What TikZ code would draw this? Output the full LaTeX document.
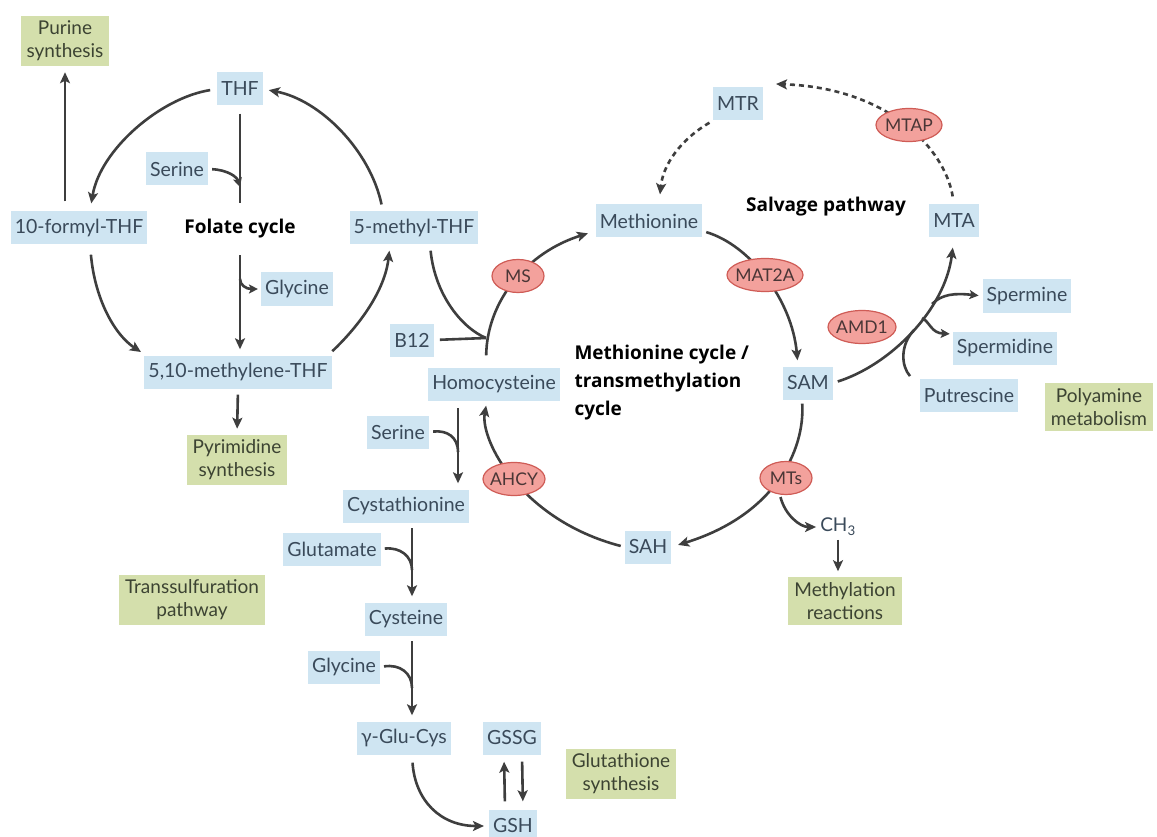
\documentclass[tikz,border=0pt]{standalone}
\usepackage{fontspec}
\setmainfont{Lato}
\newfontfamily\titlefont{Open Sans}
\usetikzlibrary{shapes.geometric,arrows.meta}
\pgfdeclarelayer{bg}
\pgfsetlayers{bg,main}
\definecolor{metfill}{HTML}{CFE5F2}
\definecolor{mettext}{HTML}{3A4A5A}
\definecolor{grnfill}{HTML}{D4DFAC}
\definecolor{grntext}{HTML}{3C4332}
\definecolor{enzfill}{HTML}{F3A19C}
\definecolor{enzdraw}{HTML}{CF5C56}
\definecolor{enztext}{HTML}{4A3636}
\definecolor{linecol}{HTML}{3E3E3E}
\tikzset{
  met/.style={fill=metfill,text=mettext,font=\fontsize{19.5}{22}\selectfont,inner xsep=4pt,inner ysep=0pt,minimum height=33pt},
  grn/.style={fill=grnfill,text=grntext,font=\fontsize{19}{23}\selectfont,align=center,inner xsep=6pt,inner ysep=5pt},
  enz/.style={ellipse,fill=enzfill,draw=enzdraw,line width=1.2pt,text=enztext,font=\fontsize{17.5}{20}\selectfont,inner xsep=-3pt,inner ysep=0pt,minimum height=33pt},
  ttl/.style={font=\titlefont\bfseries\fontsize{19}{28}\selectfont,text=black},
  arrowline/.style={draw=linecol,line width=2.6pt,-{Stealth[length=11pt,width=10pt,inset=2.5pt]}},
  smallarrow/.style={draw=linecol,line width=2.6pt,-{Stealth[length=9pt,width=9pt,inset=2pt]}},
  mergeline/.style={draw=linecol,line width=2.6pt},
  salv/.style={arrowline,dash pattern=on 5pt off 4pt},
}
\begin{document}
\begin{tikzpicture}[x=1pt,y=-1pt]
\useasboundingbox (0,0) rectangle (1157,837);
% ---------- folate cycle ----------
\node[met] (thf) at (240,89) {THF};
\node[met] (serA) at (177,169) {Serine};
\node[met] (form) at (79,228) {10-formyl-THF};
\node[met] (m5) at (414,228) {5-methyl-THF};
\node[met] (glyA) at (297,289) {Glycine};
\node[met] (mlene) at (238,372) {5,10-methylene-THF};
\node[grn] (purine) at (65,41) {Purine\\synthesis};
\node[grn] (pyrim) at (237,460) {Pyrimidine\\synthesis};
\node[ttl,minimum height=52pt] (folate) at (240,229) {Folate cycle};
% ---------- methionine cycle ----------
\node[met] (b12) at (412,340) {B12};
\node[met] (hcy) at (494,384) {Homocysteine};
\node[met] (met) at (649,221) {Methionine};
\node[met] (sam) at (808,383) {SAM};
\node[met] (sah) at (648,547) {SAH};
\node[enz,minimum width=52pt] (ms) at (518,276) {MS};
\node[enz,minimum width=76pt] (mat) at (765,275) {MAT2A};
\node[enz,minimum width=62pt] (ahcy) at (514,479) {AHCY};
\node[enz,minimum width=52pt] (mts) at (786,478) {MTs};
\node[text=mettext,font=\fontsize{19}{22}\selectfont,inner sep=1pt] (ch3) at (838,527) {CH\textsubscript{3}};
\node[grn] (methyl) at (845,601) {Methylation\\reactions};
\node[ttl,align=left,anchor=west] (mcyc) at (571,383) {Methionine cycle /\\transmethylation\\cycle};
% ---------- salvage / polyamine ----------
\node[met] (mtr) at (738,104) {MTR};
\node[met] (mta) at (954,221) {MTA};
\node[enz,minimum width=66pt] (mtap) at (909,125) {MTAP};
\node[ttl] (salvage) at (826,207) {Salvage pathway};
\node[met] (spermine) at (1027,296) {Spermine};
\node[met] (spermidine) at (1005,348) {Spermidine};
\node[met] (putres) at (969,395) {Putrescine};
\node[enz,minimum width=68pt] (amd) at (862,327) {AMD1};
\node[grn] (polyam) at (1099,407) {Polyamine\\metabolism};
% ---------- transsulfuration ----------
\node[met] (serB) at (398,432) {Serine};
\node[met] (cysta) at (406,506) {Cystathionine};
\node[met] (glu) at (332,549) {Glutamate};
\node[grn] (transs) at (192,600) {Transsulfuration\\pathway};
\node[met] (cyst) at (406,619) {Cysteine};
\node[met] (glyB) at (344,667) {Glycine};
\node[met] (ggc) at (404,738) {γ-Glu-Cys};
\node[met] (gssg) at (512,738) {GSSG};
\node[grn] (gsyn) at (621,774) {Glutathione\\synthesis};
\node[met] (gsh) at (513,826) {GSH};
% ---------- junction coordinates ----------
\coordinate (jSerA) at (240,187);
\coordinate (jGlyA) at (240,279);
\coordinate (jMS) at (486,338);
\coordinate (h1) at (458,400);
\coordinate (jSerB) at (458,452);
\coordinate (c1) at (412,522);
\coordinate (jGlu) at (412,570);
\coordinate (c2) at (412,635);
\coordinate (jGlyB) at (412,688);
\coordinate (salvtip) at (776,84);
\coordinate (jSpm) at (932,304);
\coordinate (jSpd) at (922,318);
\coordinate (jPut) at (914,330);
\begin{pgfonlayer}{bg}
\fill[white] (0,0) rectangle (1157,837);
% folate cycle
\draw[arrowline,shorten <=7pt,shorten >=8pt] (thf.west) .. controls (160,98) and (100,150) .. ([xshift=11pt]form.north);
\draw[arrowline,shorten <=10pt,shorten >=6pt] (purine.south |- form.north) -- (purine.south);
\draw[arrowline,shorten <=10pt,shorten >=6pt] ([xshift=11pt]form.south) .. controls (95,300) and (115,335) .. ([xshift=-92pt]mlene.north);
\draw[arrowline,shorten <=6pt,shorten >=6pt] ([xshift=90pt]mlene.north) .. controls (360,325) and (385,290) .. ([xshift=-24pt]m5.south);
\draw[arrowline,shorten <=7pt,shorten >=6pt] ([xshift=-31pt]m5.north) .. controls (370,150) and (320,100) .. (thf.east);
\draw[mergeline,shorten <=8pt] (thf.south) -- (folate.north);
\draw[arrowline,shorten >=6pt] (folate.south) -- (folate.south |- mlene.north);
\draw[smallarrow,shorten <=4pt] (serA.east) .. controls (228,170) and (237,177) .. (jSerA);
\draw[smallarrow,shorten >=3pt] (jGlyA) .. controls (240,285) and (246,289) .. (glyA.west);
\draw[arrowline,shorten <=6pt,shorten >=6pt] (mlene.south) -- (pyrim.north);
% methionine cycle
\draw[mergeline,shorten <=6pt] ([xshift=16pt]m5.south) .. controls (435,295) and (462,328) .. (jMS);
\draw[mergeline,shorten <=6pt] (b12.east) -- (jMS);
\draw[arrowline,shorten <=12pt,shorten >=8pt] (jMS |- hcy.north) .. controls (487,300) and (528,252) .. ([yshift=-10pt]met.west);
\draw[arrowline,shorten <=4pt,shorten >=6pt] ([yshift=-10pt]met.east) .. controls (750,245) and (792,300) .. ([xshift=-10pt]sam.north);
\draw[arrowline,shorten <=4pt,shorten >=7pt] ([xshift=-6pt]sam.south) .. controls (805,450) and (775,515) .. (sah.east);
\draw[arrowline,shorten <=2pt,shorten >=3pt] ([xshift=-6pt]mts.south) .. controls (785,515) and (800,527) .. (ch3.west);
\draw[arrowline,shorten <=3pt,shorten >=6pt] (ch3.south) -- (ch3.south |- methyl.north);
\draw[arrowline,shorten <=4pt,shorten >=5pt] (sah.west) .. controls (521,520) and (480,440) .. ([xshift=-7pt]hcy.south);
% salvage pathway
\draw[salv,shorten <=8pt] (mta.north) .. controls (945,150) and (890,88) .. (salvtip);
\draw[salv,shorten <=4pt,shorten >=10pt] (mtr.south west) .. controls (680,140) and (663,165) .. ([xshift=10pt]met.north);
% polyamine
\draw[arrowline,shorten <=5pt,shorten >=10pt] (sam.east) .. controls (890,365) and (945,310) .. (mta.south);
\draw[smallarrow,shorten >=4pt] (jSpm) .. controls (942,294) and (955,293) .. (spermine.west);
\draw[smallarrow,shorten >=3pt] (jSpd) .. controls (930,322) and (931,333) .. ([yshift=14pt]spermidine.west);
\draw[mergeline,shorten <=3pt] ([xshift=-57pt]putres.north) .. controls (901,366) and (900,345) .. (jPut);
% transsulfuration
\draw[arrowline,shorten <=8pt,shorten >=6pt] (h1) -- (h1 |- cysta.north);
\draw[mergeline,shorten <=4pt] (serB.east) .. controls (447,430) and (458,437) .. (jSerB);
\draw[arrowline,shorten <=6pt,shorten >=6pt] (c1) -- (c1 |- cyst.north);
\draw[mergeline,shorten <=4pt] (glu.east) .. controls (400,547) and (412,556) .. (jGlu);
\draw[arrowline,shorten <=6pt,shorten >=6pt] (c2) -- (c2 |- ggc.north);
\draw[mergeline,shorten <=4pt] (glyB.east) .. controls (400,664) and (412,673) .. (jGlyB);
\draw[arrowline,shorten <=8pt,shorten >=5pt] ([xshift=8pt]ggc.south) .. controls (415,800) and (440,826) .. (gsh.west);
\draw[arrowline,shorten <=8pt,shorten >=7pt] ([xshift=-8pt]gsh.north) -- ([xshift=-8pt]gssg.south);
\draw[arrowline,shorten <=7pt,shorten >=8pt] ([xshift=10pt]gssg.south) -- ([xshift=10pt]gsh.north);
\end{pgfonlayer}
\end{tikzpicture}
\end{document}
